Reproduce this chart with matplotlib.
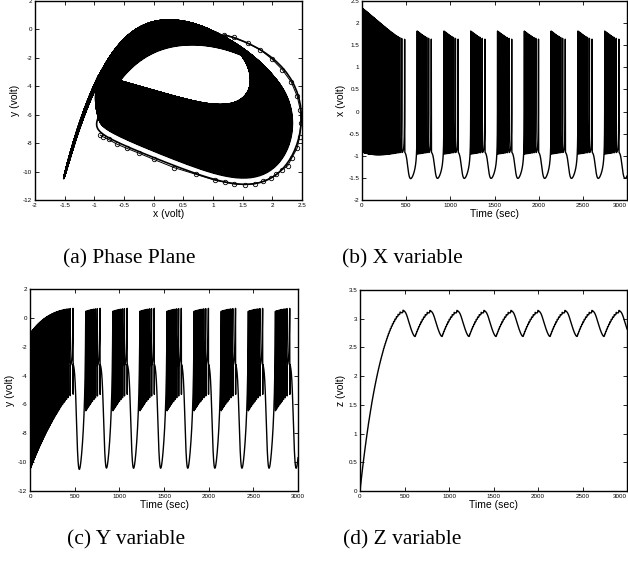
import numpy as np
import matplotlib
matplotlib.use("Agg")
import matplotlib.pyplot as plt

plt.rcParams['font.family'] = ['Liberation Sans', 'DejaVu Sans']
plt.rcParams['axes.unicode_minus'] = False

# Hindmarsh-Rose model constants and initial state (x, y, z)
hr_abcd = [1.0, 3.0, 1.0, 5.0]
hr_I = 3.04
hr_r = 0.002
hr_s = 4.0
hr_xr = -1.6
state0 = [1.2, -0.4, 0.0]
t_end = 3000.0
dt = 0.02

# circled first loop
loop_x = [1.18, 1.36, 1.59, 1.80, 1.99, 2.17, 2.32, 2.42, 2.47, 2.48, 2.46, 2.42,
          2.33, 2.26, 2.16, 2.07, 1.97, 1.85, 1.71, 1.54, 1.35, 1.21, 1.04, 0.71,
          0.35, 0.00, -0.24, -0.45, -0.62, -0.76, -0.85, -0.90]
loop_y = [-0.37, -0.56, -0.98, -1.44, -2.07, -2.84, -3.71, -4.71, -5.64, -6.58,
          -7.56, -8.33, -9.03, -9.59, -9.89, -10.19, -10.45, -10.68, -10.85,
          -10.92, -10.87, -10.75, -10.62, -10.19, -9.73, -9.14, -8.72, -8.37,
          -8.07, -7.74, -7.56, -7.44]

captions = ['(a) Phase Plane', '(b) X variable', '(c) Y variable', '(d) Z variable']

a, b, c, d = hr_abcd


def deriv(x, y, z):
    return (y - a * x**3 + b * x**2 - z + hr_I,
            c - d * x**2 - y,
            hr_r * (hr_s * (x - hr_xr) - z))


n = int(t_end / dt) + 1
xs = np.empty(n)
ys = np.empty(n)
zs = np.empty(n)
x, y, z = state0
h = dt
for k in range(n):
    xs[k] = x
    ys[k] = y
    zs[k] = z
    k1 = deriv(x, y, z)
    k2 = deriv(x + 0.5 * h * k1[0], y + 0.5 * h * k1[1], z + 0.5 * h * k1[2])
    k3 = deriv(x + 0.5 * h * k2[0], y + 0.5 * h * k2[1], z + 0.5 * h * k2[2])
    k4 = deriv(x + h * k3[0], y + h * k3[1], z + h * k3[2])
    x += h / 6 * (k1[0] + 2 * k2[0] + 2 * k3[0] + k4[0])
    y += h / 6 * (k1[1] + 2 * k2[1] + 2 * k3[1] + k4[1])
    z += h / 6 * (k1[2] + 2 * k2[2] + 2 * k3[2] + k4[2])
t = np.arange(n) * dt

W, H = 628, 561
fig = plt.figure(figsize=(W / 100, H / 100), dpi=100)


def box(l, top, r, bot):
    return [l / W, 1 - bot / H, (r - l) / W, (bot - top) / H]


ax_a = fig.add_axes(box(35, 1, 302, 200))
ax_b = fig.add_axes(box(362, 1, 627, 200))
ax_c = fig.add_axes(box(30, 289, 298, 491))
ax_d = fig.add_axes(box(360, 290, 627, 491))

lw = 1.0
ax_a.plot(xs, ys, 'k-', lw=1.2)
ax_a.plot(loop_x, loop_y, 'k-o', lw=0.7, ms=3.2, mfc='none', mew=0.6)
ax_a.set_xlim(-2, 2.5)
ax_a.set_ylim(-12, 2)
ax_a.set_xticks(np.arange(-2, 2.51, 0.5))
ax_a.set_xticklabels(['-2', '-1.5', '-1', '-0.5', '0', '0.5', '1', '1.5', '2', '2.5'])
ax_a.set_yticks(np.arange(-12, 2.1, 2))
ax_a.set_xlabel('x (volt)')
ax_a.set_ylabel('y (volt)')

ax_b.plot(t, xs, 'k-', lw=lw)
ax_b.set_ylim(-2, 2.5)
ax_b.set_yticks(np.arange(-2, 2.51, 0.5))
ax_b.set_yticklabels(['-2', '-1.5', '-1', '-0.5', '0', '0.5', '1', '1.5', '2', '2.5'])
ax_b.set_xlabel('Time (sec)')
ax_b.set_ylabel('x (volt)')

ax_c.plot(t, ys, 'k-', lw=lw)
ax_c.set_ylim(-12, 2)
ax_c.set_yticks(np.arange(-12, 2.1, 2))
ax_c.set_xlabel('Time (sec)')
ax_c.set_ylabel('y (volt)')

ax_d.plot(t, zs, 'k-', lw=lw)
ax_d.set_ylim(0, 3.5)
ax_d.set_yticks(np.arange(0, 3.51, 0.5))
ax_d.set_yticklabels(['0', '0.5', '1', '1.5', '2', '2.5', '3', '3.5'])
ax_d.set_xlabel('Time (sec)')
ax_d.set_ylabel('z (volt)')

for ax in (ax_b, ax_c, ax_d):
    ax.set_xlim(0, 3000)
    ax.set_xticks(np.arange(0, 3001, 500))

for ax in (ax_a, ax_b, ax_c, ax_d):
    ax.tick_params(direction='in', top=True, right=True, length=3, width=0.6,
                   labelsize=4.5, pad=2)
    ax.xaxis.label.set_size(7.5)
    ax.yaxis.label.set_size(7.5)
    ax.xaxis.labelpad = 1
    ax.yaxis.labelpad = 2
    for sp in ax.spines.values():
        sp.set_linewidth(1.0)

# right-hand panels touch the image edge: keep the last tick label inside
for ax in (ax_b, ax_d):
    ax.get_xticklabels()[-1].set_horizontalalignment('right')

cap_pos = [(129, 259), (402, 259), (126, 540), (402, 540)]
for (cx, cy), txt in zip(cap_pos, captions):
    fig.text(cx / W, 1 - cy / H, txt, ha='center', va='center',
             family=['Liberation Serif', 'DejaVu Serif'], fontsize=15.5)

fig.savefig('out.png', dpi=100)
